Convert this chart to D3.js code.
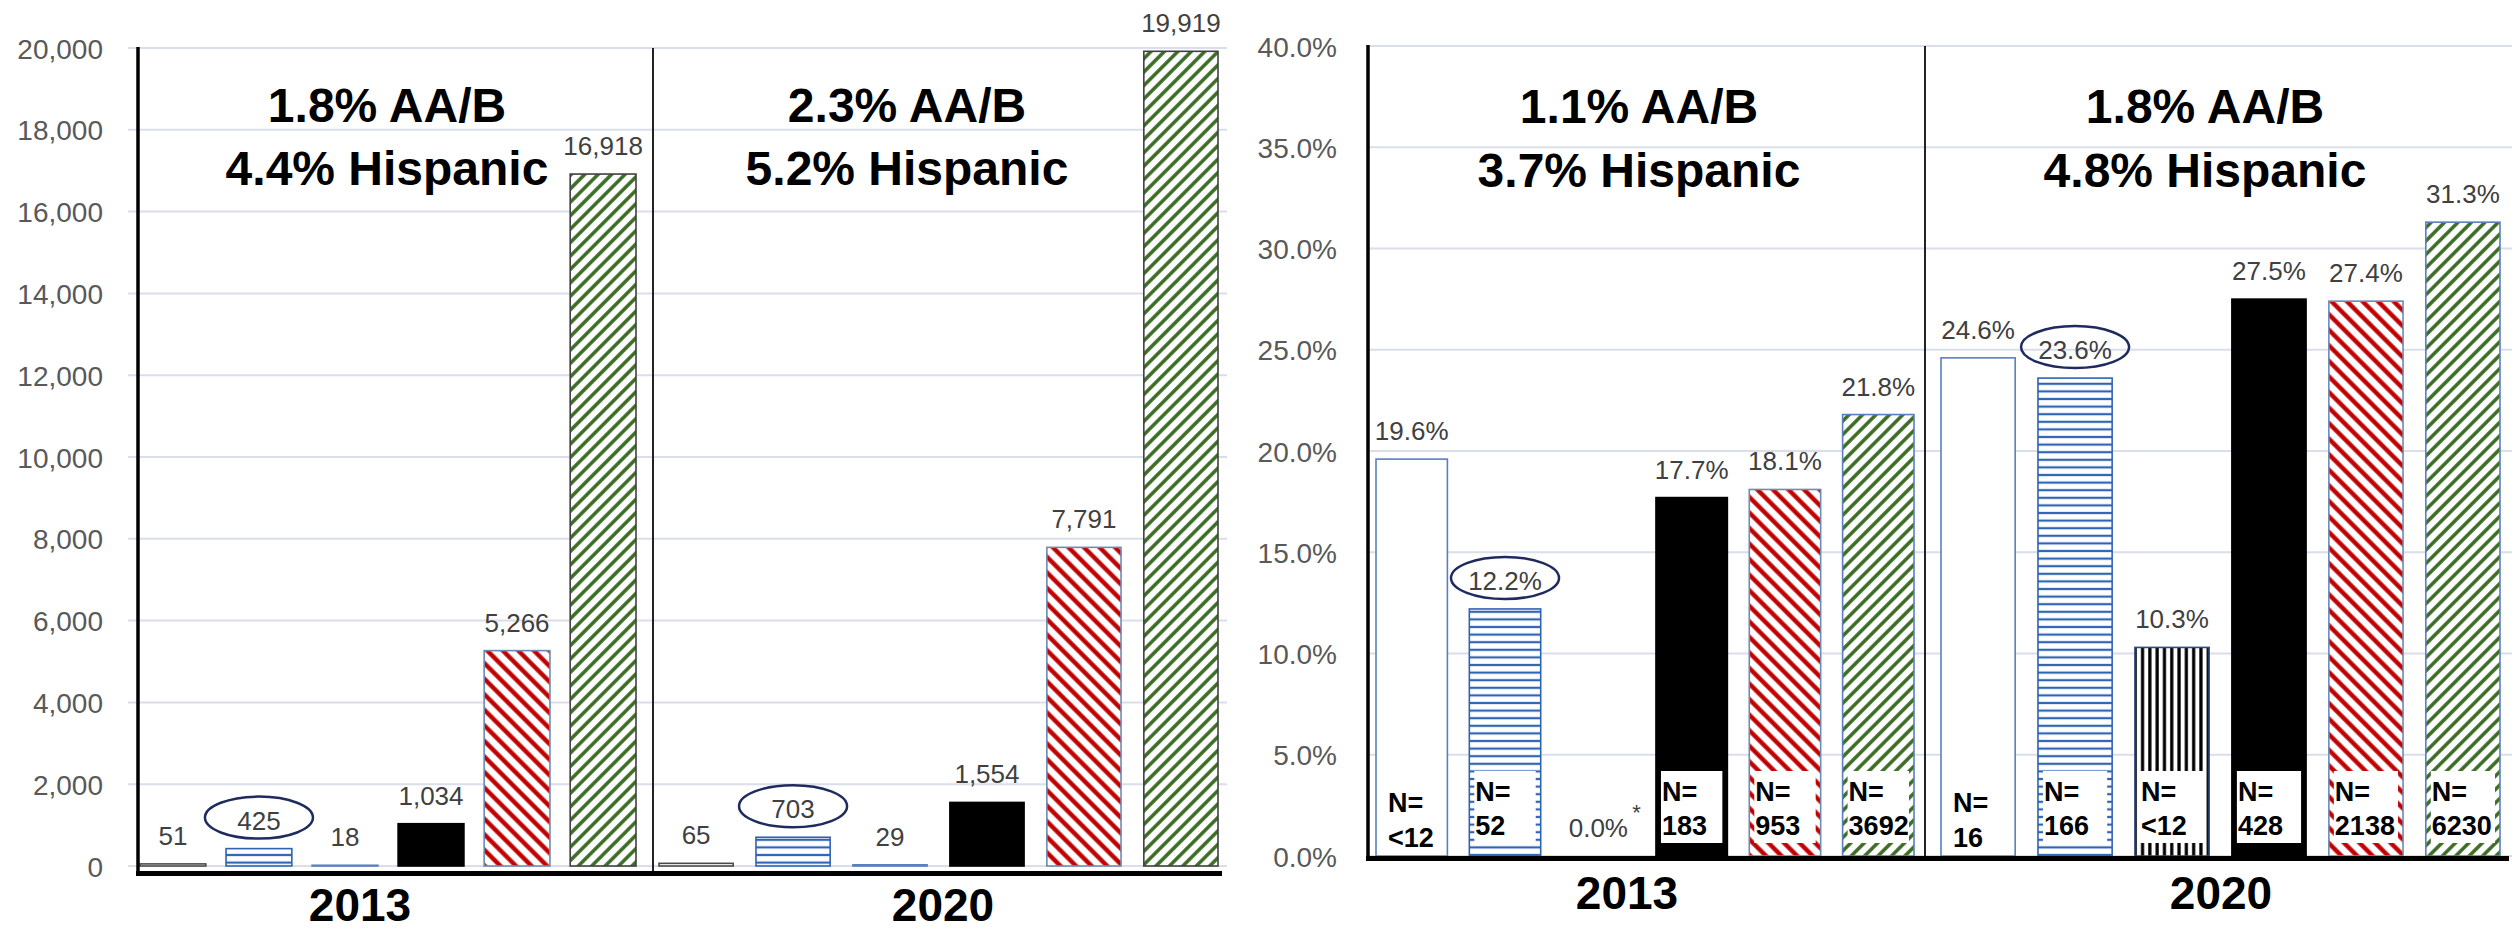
<!DOCTYPE html>
<html><head><meta charset="utf-8">
<script src="https://cdn.jsdelivr.net/npm/d3@7"></script>
<style>
body{margin:0;background:#fff}
svg{display:block}
text{font-family:"Liberation Sans",Arial,Helvetica,sans-serif}
</style>
</head><body>
<svg id="chart" width="2517" height="930"></svg>
<script>
// ---------- DATA ----------
const categories = ["A", "B", "C", "D", "E", "F"];
const years = ["2013", "2020"];
const countValues2013 = [51, 425, 18, 1034, 5266, 16918];
const countValues2020 = [65, 703, 29, 1554, 7791, 19919];
const rateValues2013 = [19.6, 12.2, 0.0, 17.7, 18.1, 21.8];
const rateValues2020 = [24.6, 23.6, 10.3, 27.5, 27.4, 31.3];
const nLabels2013 = ["<12", "52", "", "183", "953", "3692"];
const nLabels2020 = ["16", "166", "<12", "428", "2138", "6230"];
const countTicks = [0, 2000, 4000, 6000, 8000, 10000, 12000, 14000, 16000, 18000, 20000];
const rateTicks = [0, 5, 10, 15, 20, 25, 30, 35, 40];
const countTitles2013 = ["1.8% AA/B", "4.4% Hispanic"];
const countTitles2020 = ["2.3% AA/B", "5.2% Hispanic"];
const rateTitles2013 = ["1.1% AA/B", "3.7% Hispanic"];
const rateTitles2020 = ["1.8% AA/B", "4.8% Hispanic"];
const highlightIndex = 1;
const zeroMarkIndex = 2; // "0.0%*"

// ---------- STYLE ----------
const svg = d3.select("#chart");
const defs = svg.append("defs");
function stripes(id, w, color, sw, angle, bg) {
  const p = defs.append("pattern").attr("id", id).attr("patternUnits", "userSpaceOnUse")
    .attr("width", w).attr("height", w).attr("patternTransform", `rotate(${angle})`);
  p.append("rect").attr("width", w).attr("height", w).attr("fill", bg || "#fff");
  p.append("line").attr("x1", w / 2).attr("x2", w / 2).attr("y1", 0).attr("y2", w)
    .attr("stroke", color).attr("stroke-width", sw);
}
stripes("hlines", 7.6, "#2f64b4", 2.2, 90);
stripes("vlines", 7.3, "#000", 3.2, 0);
stripes("reddiag", 11, "#c00000", 4.4, -45);
stripes("greendiag", 9.5, "#3a6b22", 3.5, 45);

const fills = ["#fff", "url(#hlines)", "url(#vlines)", "#000", "url(#reddiag)", "url(#greendiag)"];
const strokesLeft = ["#4a4a4a", "#2f64b4", "#5a7fc0", "#000", "#6d8ab5", "#404040"];
const strokesRight = ["#5a7fc0", "#2f64b4", "#2c4a86", "#000", "#6d8ab5", "#5a7fc0"];
const FONT = '"Liberation Sans",Arial,Helvetica,sans-serif';

function drawChart(o) {
  const g = svg.append("g");
  const y = d3.scaleLinear().domain([0, o.yMax]).range([o.y0, o.yTop]);

  // gridlines
  g.append("g").selectAll("line").data(o.ticks).join("line")
    .attr("x1", o.gridX0).attr("x2", o.gridX1)
    .attr("y1", d => y(d)).attr("y2", d => y(d))
    .attr("stroke", "#d9deea").attr("stroke-width", 2);

  // y axis labels
  const ax = d3.axisLeft(y).tickValues(o.ticks).tickFormat(o.tickFmt).tickSize(0).tickPadding(0);
  g.append("g").attr("transform", `translate(${o.labelX},0)`).call(ax)
    .call(s => {
      s.select(".domain").remove();
      s.selectAll("text").attr("font-size", 28).attr("fill", "#595959")
        .attr("font-family", FONT).attr("dy", "0.36em");
    });

  o.groups.forEach((grp, gi) => {
    const x = d3.scaleBand().domain(categories).range(grp.span).paddingInner(0.235).paddingOuter(0);
    const bw = x.bandwidth();
    const data = categories.map((c, i) => ({ c, i, v: grp.values[i], n: grp.n ? grp.n[i] : "" }));

    g.append("g").selectAll("rect").data(data.filter(d => d.v > 0)).join("rect")
      .attr("x", d => x(d.c)).attr("width", bw)
      .attr("y", d => y(d.v)).attr("height", d => o.y0 - y(d.v))
      .attr("fill", d => fills[d.i]).attr("stroke", d => o.strokes[d.i]).attr("stroke-width", 1.6);

    // N= boxes
    if (grp.n) {
      const nd = data.filter(d => d.n !== "");
      g.append("g").selectAll("rect").data(nd.filter(d => d.i !== 0)).join("rect")
        .attr("x", d => x(d.c) + 5).attr("width", bw - 10)
        .attr("y", o.y0 - 85).attr("height", 72).attr("fill", "#fff");
      const t = g.append("g").selectAll("text").data(nd).join("text")
        .attr("font-size", 27).attr("font-weight", "bold").attr("fill", "#000");
      t.append("tspan").attr("x", d => x(d.c) + (d.i === 0 ? 12 : 6))
        .attr("y", d => o.y0 - (d.i === 0 ? 44 : 55)).text("N=");
      t.append("tspan").attr("x", d => x(d.c) + (d.i === 0 ? 12 : 6))
        .attr("y", d => o.y0 - (d.i === 0 ? 9 : 21)).text(d => d.n);
    }

    // value labels
    g.append("g").selectAll("text").data(data).join("text")
      .attr("x", d => x(d.c) + bw / 2).attr("y", d => y(d.v) - 19)
      .attr("text-anchor", "middle").attr("font-size", 26).attr("fill", "#404040")
      .text(d => o.valFmt(d.v));

    if (o.zeroMark && grp.values[zeroMarkIndex] === 0) {
      g.append("text").attr("x", x(categories[zeroMarkIndex]) + bw / 2 + 34)
        .attr("y", y(0) - 36).attr("font-size", 22).attr("fill", "#404040").text("*");
    }

    // highlight ellipse
    const hc = categories[highlightIndex];
    g.append("ellipse").attr("cx", x(hc) + bw / 2).attr("cy", y(grp.values[highlightIndex]) - 31)
      .attr("rx", 54).attr("ry", 21).attr("fill", "none").attr("stroke", "#1f2b5e").attr("stroke-width", 2.5);

    // title
    const tt = g.append("text").attr("text-anchor", "middle").attr("font-size", 48).attr("font-weight", "bold").attr("fill", "#000");
    grp.title.forEach((line, li) => tt.append("tspan").attr("x", grp.titleX).attr("y", o.titleY[li]).text(line));

    // year label
    g.append("text").attr("x", grp.yearX).attr("y", o.yearY).attr("text-anchor", "middle")
      .attr("font-size", 46).attr("font-weight", "bold").attr("fill", "#000").text(years[gi]);
  });

  // divider
  g.append("line").attr("x1", o.dividerX).attr("x2", o.dividerX).attr("y1", o.yTop).attr("y2", o.axisY)
    .attr("stroke", "#222").attr("stroke-width", 2);
  // vertical axis
  g.append("line").attr("x1", o.axisX).attr("x2", o.axisX).attr("y1", o.yTop - 1).attr("y2", o.axisY + 2)
    .attr("stroke", "#000").attr("stroke-width", 3.5);
  // bottom axis
  g.append("line").attr("x1", o.axisX - 2).attr("x2", o.axisX1).attr("y1", o.axisY).attr("y2", o.axisY)
    .attr("stroke", "#000").attr("stroke-width", 5);
}

drawChart({
  yMax: 20000, y0: 866, yTop: 48, ticks: countTicks,
  tickFmt: d3.format(","), valFmt: d3.format(","),
  gridX0: 128, gridX1: 1227, labelX: 103, axisX: 138, axisX1: 1222, axisY: 873.5,
  dividerX: 653, titleY: [122, 185], yearY: 921, strokes: strokesLeft, zeroMark: false,
  groups: [
    { span: [140, 636], values: countValues2013, title: countTitles2013, titleX: 387, yearX: 360 },
    { span: [659, 1218], values: countValues2020, title: countTitles2020, titleX: 907, yearX: 943 }
  ]
});

drawChart({
  yMax: 40, y0: 856, yTop: 46, ticks: rateTicks,
  tickFmt: d => d.toFixed(1) + "%", valFmt: d => d.toFixed(1) + "%",
  gridX0: 1366, gridX1: 2512, labelX: 1337, axisX: 1368, axisX1: 2509, axisY: 858.5,
  dividerX: 1925, titleY: [123, 187], yearY: 909, strokes: strokesRight, zeroMark: true,
  groups: [
    { span: [1376, 1914], values: rateValues2013, n: nLabels2013, title: rateTitles2013, titleX: 1639, yearX: 1627 },
    { span: [1941, 2500], values: rateValues2020, n: nLabels2020, title: rateTitles2020, titleX: 2205, yearX: 2221 }
  ]
});
</script>
</body></html>
